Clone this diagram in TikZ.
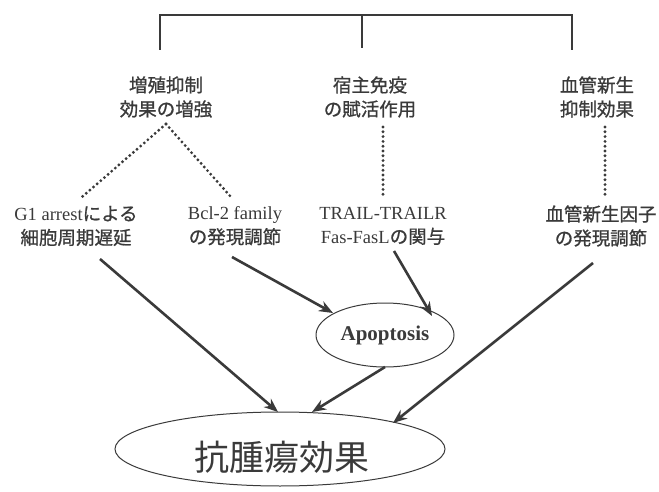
\documentclass[tikz,border=0pt]{standalone}
\usepackage{fontspec}
\setmainfont{Liberation Serif}
\newfontfamily\jp[FakeBold=0.9]{Noto Sans CJK JP}
\newfontfamily\jpthin{Noto Sans CJK JP}
\usetikzlibrary{shapes.geometric,arrows.meta}
\definecolor{ink}{HTML}{3a3a3a}
\tikzset{
  lbl/.style={align=center,font=\fontsize{18.5}{24}\selectfont,text=ink,inner sep=0pt},
  brk/.style={draw=ink,line width=1.8pt},
  dots/.style={draw=ink,line width=3.2pt,dash pattern=on 0pt off 4.8pt,line cap=round},
  arr/.style={draw=ink,line width=2.6pt,-{Stealth[length=14pt,width=11pt]}},
  ell/.style={draw=ink,ellipse,line width=1pt,inner sep=0pt}
}
\begin{document}
\begin{tikzpicture}[x=1pt,y=-1pt]
\useasboundingbox (0,0) rectangle (659,492);
% top bracket
\coordinate (tl) at (160,15);
\coordinate (tm) at (362,15);
\coordinate (tr) at (572,15);
\coordinate (bl) at (160,50);
\coordinate (bm) at (362,48);
\coordinate (br) at (572,50);
\draw[brk] (bl) -- (tl) -- (tr) -- (br);
\draw[brk] (tm) -- (bm);
% first row
\node[lbl] (a1) at (166,97) {\jp 増殖抑制\\\jp 効果の増強};
\node[lbl] (a2) at (370,97) {\jp 宿主免疫\\\jp の賦活作用};
\node[lbl] (a3) at (597,97) {\jp 血管新生\\\jp 抑制効果};
% second row
\node[lbl] (b1) at (76,226) {G1 arrest{\jp による}\\\jp 細胞周期遅延};
\node[lbl] (b2) at (235,226) {Bcl-2 family\\\jp の発現調節};
\node[lbl] (b3) at (383,226) {TRAIL-TRAILR\\Fas-FasL{\jp の関与}};
\node[lbl] (b4) at (601,226) {\jp 血管新生因子\\\jp の発現調節};
% dotted links
\coordinate (d0) at (166,124);
\coordinate (d1) at (82,197);
\coordinate (d2) at (231,197);
\coordinate (d3t) at (383,127);
\coordinate (d3b) at (383,196);
\coordinate (d4t) at (605,127);
\coordinate (d4b) at (605,196);
\draw[dots] (d0) -- (d1);
\draw[dots] (d0) -- (d2);
\draw[dots] (d3t) -- (d3b);
\draw[dots] (d4t) -- (d4b);
% ellipses
\node[ell,minimum width=138pt,minimum height=64pt,font=\fontsize{21}{24}\selectfont\bfseries,text=ink] (apo) at (385,335) {Apoptosis};
\node[ell,minimum width=330pt,minimum height=74pt,text=ink] (eff) at (280,449) {};
\node[font=\fontsize{35}{40}\selectfont\jpthin,text=ink,inner sep=0pt] (efft) at (282,457) {抗腫瘍効果};
% arrows
\coordinate (s1) at (100,259);
\coordinate (s2) at (232,257);
\coordinate (s3) at (394,251);
\coordinate (s4) at (593,263);
\coordinate (e1) at (278,412);
\coordinate (e2) at (333,313);
\coordinate (e3) at (432,316);
\coordinate (e4) at (393,423);
\coordinate (e5) at (312,412);
\coordinate (s5) at (385,367);
\draw[arr] (s1) -- (e1);
\draw[arr] (s2) -- (e2);
\draw[arr] (s3) -- (e3);
\draw[arr] (s4) -- (e4);
\draw[arr] (s5) -- (e5);
\end{tikzpicture}
\end{document}
